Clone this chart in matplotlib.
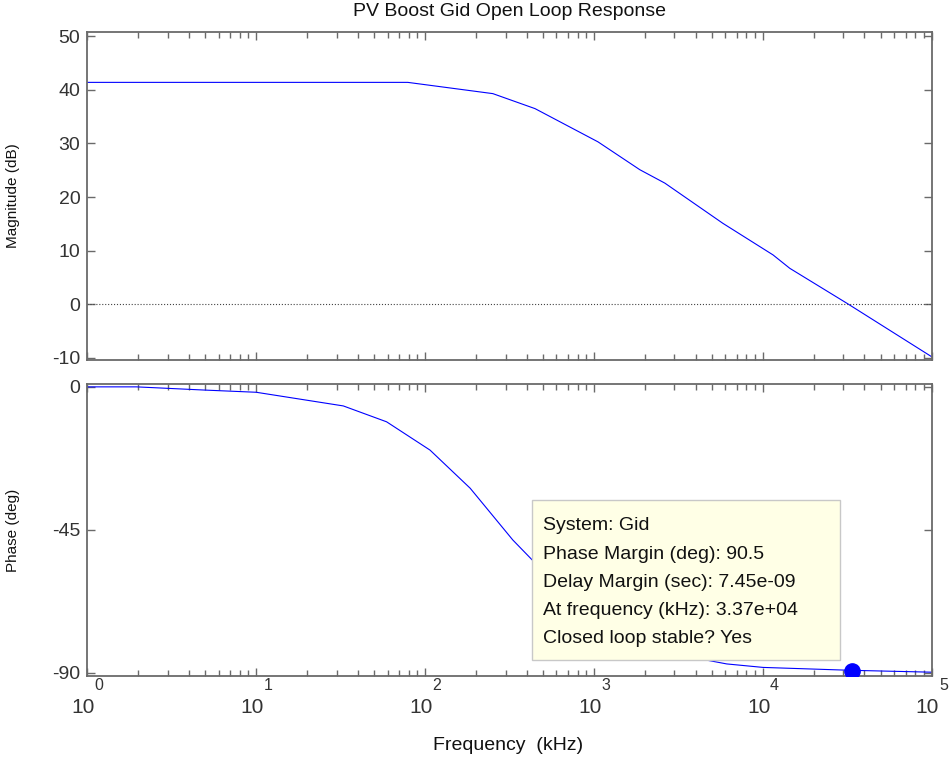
import matplotlib
matplotlib.use("Agg")
import matplotlib.pyplot as plt
from matplotlib.patches import Rectangle
from matplotlib.ticker import LogLocator, NullFormatter, FixedLocator

plt.rcParams['font.family'] = ['Liberation Sans', 'DejaVu Sans']
plt.rcParams['axes.unicode_minus'] = False

# Open-loop magnitude response
mag_freq_khz = [1, 79, 252, 448, 1057, 1870, 2630, 5800, 11500, 14450, 31400, 100000]
mag_db = [41.4, 41.4, 39.3, 36.5, 30.3, 25.1, 22.6, 15.1, 9.2, 6.7, 0.2, -9.8]

# Open-loop phase response
phase_freq_khz = [1, 1.95, 4.9, 10, 32.8, 59.2, 107, 185, 331, 589, 1047, 1862,
                  3311, 4645, 6109, 10046, 32810, 100000]
phase_deg = [-0.1, -0.1, -1.1, -1.8, -6.1, -11.1, -20.0, -32.0, -48.3, -62.0,
             -73.0, -80.0, -84.5, -86.1, -87.3, -88.4, -89.3, -89.9]

# Phase-margin point
pm_freq_khz = 3.37e4
pm_phase_deg = -89.5

mag_ticks = [-10, 0, 10, 20, 30, 40, 50]
phase_ticks = [-90, -45, 0]
decades = [0, 1, 2, 3, 4, 5]

info_lines = [
    "System: Gid",
    "Phase Margin (deg): 90.5",
    "Delay Margin (sec): 7.45e-09",
    "At frequency (kHz): 3.37e+04",
    "Closed loop stable? Yes",
]

frame_col = '#6a6a6a'
text_col = '#333333'

fig = plt.figure(figsize=(9.5, 7.61), dpi=100)
ax_mag = fig.add_axes([0.0919, 0.5270, 0.8888, 0.4306])
ax_ph = fig.add_axes([0.0919, 0.1117, 0.8888, 0.3837], sharex=ax_mag)

for ax in (ax_mag, ax_ph):
    ax.set_xscale('log')
    ax.set_xlim(1, 1e5)
    for sp in ax.spines.values():
        sp.set_color(frame_col)
        sp.set_linewidth(1.3)
    ax.xaxis.set_minor_locator(LogLocator(base=10, subs=range(2, 10), numticks=20))
    ax.xaxis.set_minor_formatter(NullFormatter())
    ax.tick_params(axis='both', which='major', direction='in', top=True, right=True,
                   length=6, width=1, colors=frame_col, labelcolor=text_col,
                   labelsize=14, pad=5)
    ax.tick_params(axis='x', which='minor', direction='in', top=True, bottom=True,
                   length=4, width=1, colors=frame_col)
    ax.tick_params(axis='x', which='both', labelbottom=False)

# Magnitude
ax_mag.plot(mag_freq_khz, mag_db, color='#0000ff', lw=0.8)
ax_mag.axhline(0, color='#444444', lw=0.8, ls=':')
ax_mag.set_ylim(-10.4, 50.75)
ax_mag.yaxis.set_major_locator(FixedLocator(mag_ticks))
ax_mag.set_ylabel("Magnitude (dB)", fontsize=11, color='#111111')
ax_mag.yaxis.set_label_coords(-0.0797, 0.5)

# Phase
ax_ph.plot(phase_freq_khz, phase_deg, color='#0000ff', lw=0.8, zorder=2)
ax_ph.plot([pm_freq_khz], [pm_phase_deg], 'o', color='#0000ff', ms=11, zorder=5)
ax_ph.set_ylim(-91.1, 0.8)
ax_ph.yaxis.set_major_locator(FixedLocator(phase_ticks))
ax_ph.set_ylabel("Phase (deg)", fontsize=11, color='#111111')
ax_ph.yaxis.set_label_coords(-0.0797, 0.5)

# Decade labels with raised exponents
xtr = ax_ph.get_xaxis_transform()
for d in decades:
    ax_ph.annotate("10", xy=(10.0 ** d, 0), xycoords=xtr, xytext=(-3.0, -23),
                   textcoords='offset points', ha='center', va='center',
                   fontsize=15, color=text_col, annotation_clip=False)
    ax_ph.annotate(str(d), xy=(10.0 ** d, 0), xycoords=xtr, xytext=(8.5, -6.5),
                   textcoords='offset points', ha='center', va='center',
                   fontsize=11.5, color=text_col, annotation_clip=False)

# Data tip box
ax_ph.add_patch(Rectangle((0.5266, 0.0548), 0.3648, 0.5479, transform=ax_ph.transAxes,
                          facecolor='#ffffe6', edgecolor='#c8c8c8', lw=1, zorder=4))
line_y = [0.5137, 0.4178, 0.3219, 0.2260, 0.1301]
for txt, yy in zip(info_lines, line_y):
    ax_ph.text(0.5397, yy, txt, transform=ax_ph.transAxes, ha='left', va='center',
               fontsize=14, color='#111111', zorder=6)

fig.text(0.5368, 0.9855, "PV Boost Gid Open Loop Response", ha='center', va='center',
         fontsize=14, color='#111111')
fig.text(0.5347, 0.0210, "Frequency  (kHz)", ha='center', va='center',
         fontsize=14, color='#111111')

fig.savefig("out.png", dpi=100)
